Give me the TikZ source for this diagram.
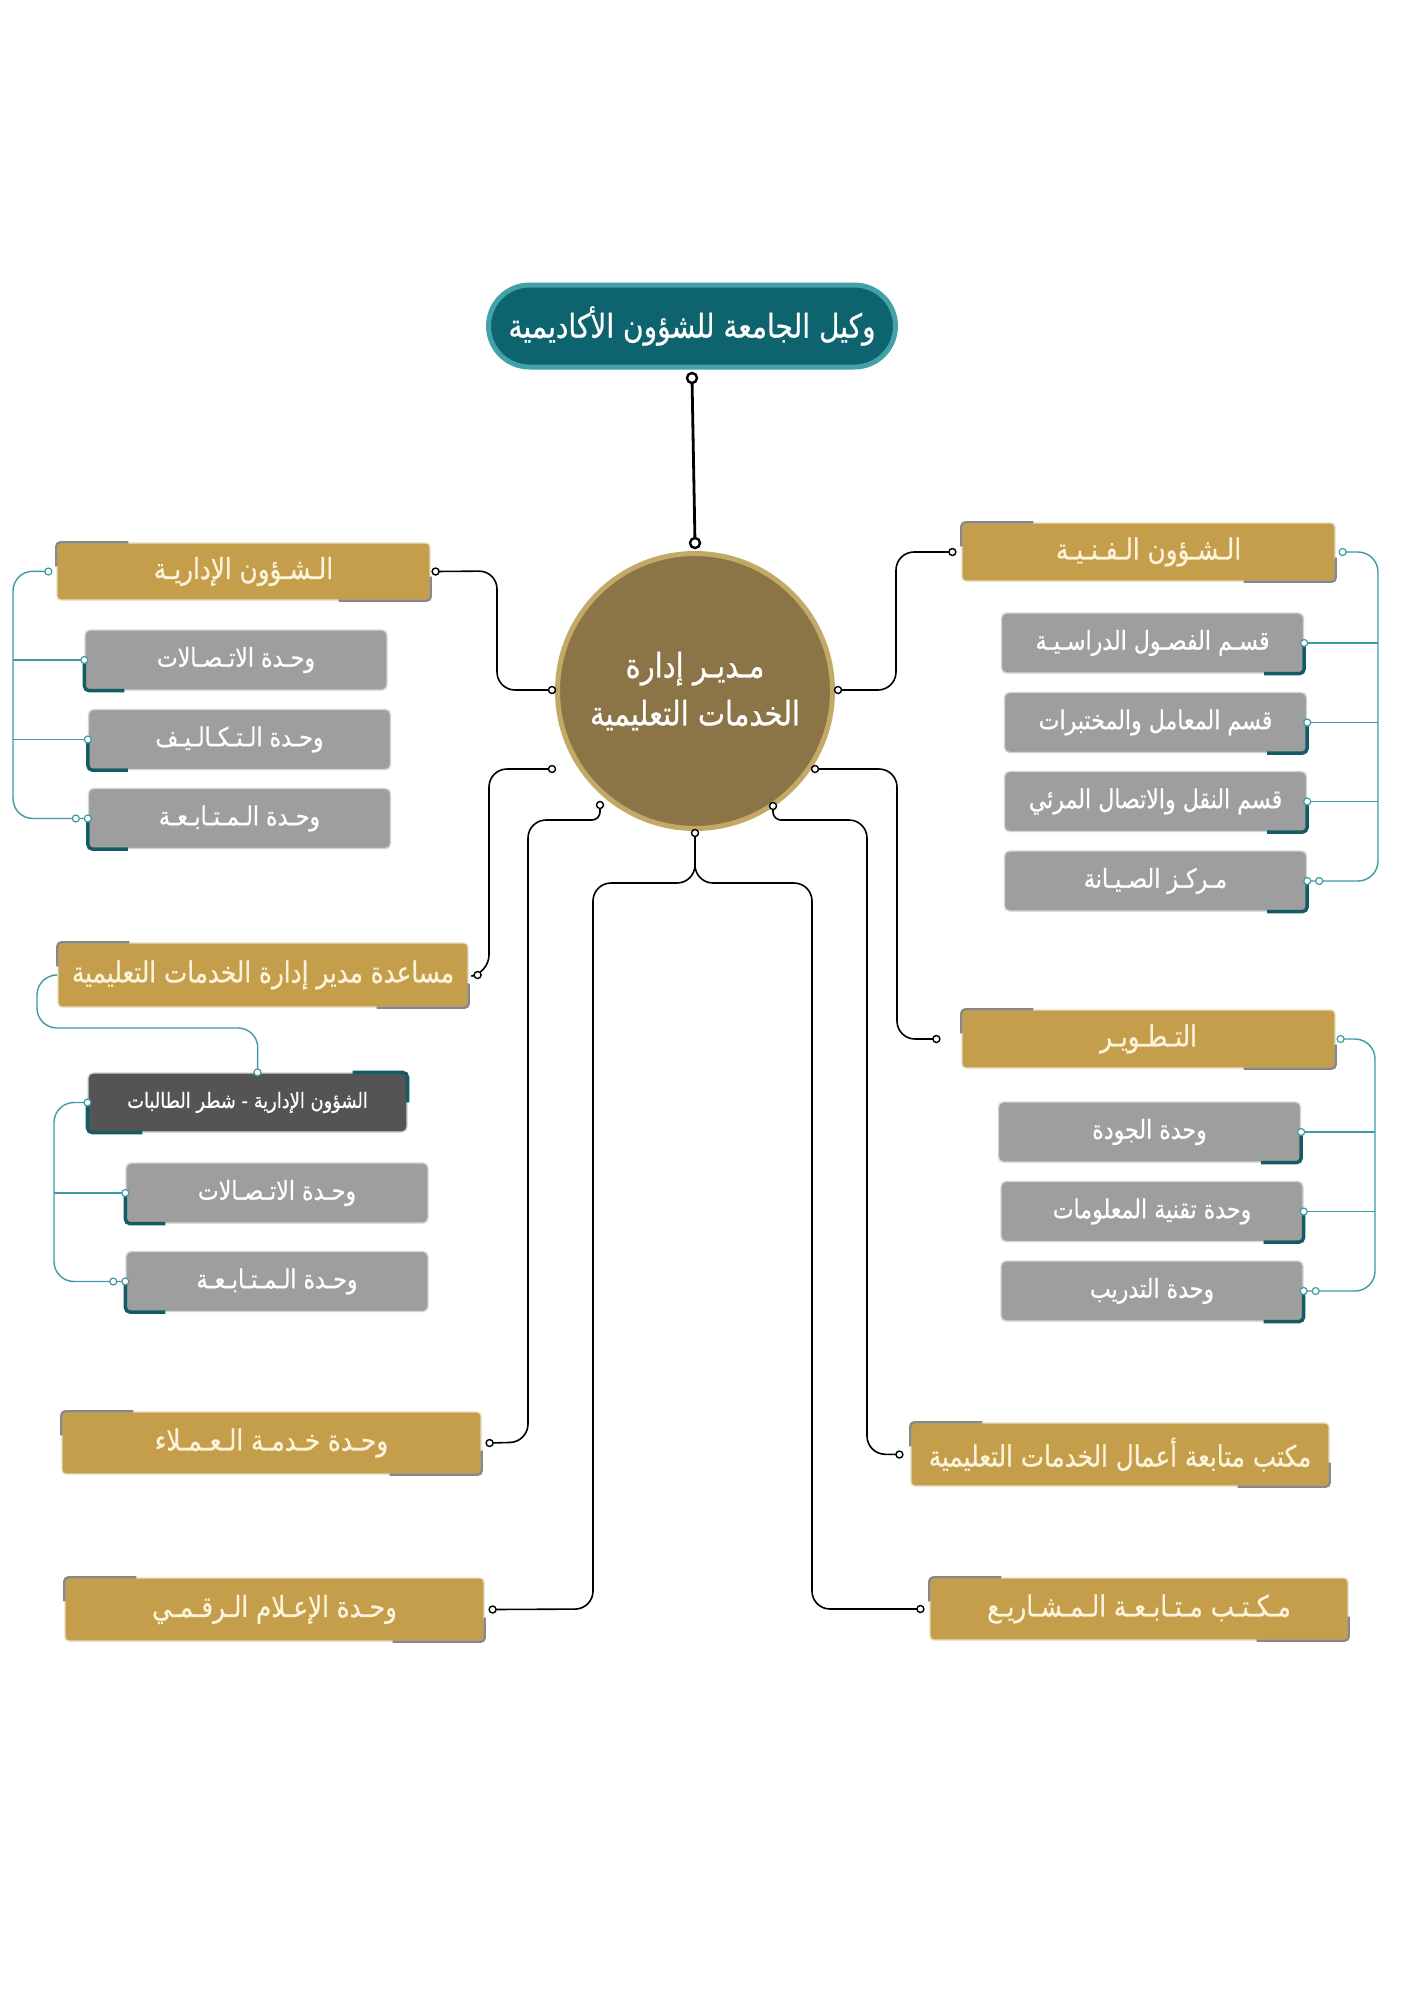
\documentclass[tikz,border=0pt]{standalone}
\usepackage{fontspec}
\newfontfamily\ar[Script=Arabic, FakeStretch=0.85, FakeBold=0.6]{DejaVu Sans}
\TeXXeTstate=1
\newcommand\AR[1]{\beginR #1\endR}
\usetikzlibrary{calc}
\definecolor{gold}{HTML}{C49E4B}
\definecolor{goldline}{HTML}{E6DCC4}
\definecolor{goldtext}{HTML}{FCF3DA}
\definecolor{accgray}{HTML}{8C8880}
\definecolor{boxgray}{HTML}{9E9E9E}
\definecolor{grayline}{HTML}{D2D6D6}
\definecolor{darkbox}{HTML}{545454}
\definecolor{accteal}{HTML}{145C64}
\definecolor{tline}{HTML}{3E9BA3}
\definecolor{circfill}{HTML}{8B7546}
\definecolor{circring}{HTML}{C2A966}
\definecolor{topfill}{HTML}{0D646E}
\definecolor{topring}{HTML}{43A1A8}
\newcommand\GoldAcc[1]{%
  \draw[goldacc] ([yshift=-24pt]#1.north west) |- ([xshift=72pt]#1.north west);
  \draw[goldacc] ([yshift=24pt]#1.south east) |- ([xshift=-92pt]#1.south east);}
\newcommand\AccL[1]{\draw[tealacc] ([yshift=30pt]#1.south west) |- ([xshift=40pt]#1.south west);}
\newcommand\AccR[1]{\draw[tealacc] ([yshift=30pt]#1.south east) |- ([xshift=-40pt]#1.south east);}
\begin{document}
\begin{tikzpicture}[x=1pt,y=-1pt,
  goldbox/.style={rectangle, rounded corners=4pt, fill=gold, draw=goldline, line width=1.2pt,
    text=goldtext, font={\ar\fontsize{29pt}{32pt}\selectfont}, inner sep=1pt},
  graybox/.style={rectangle, rounded corners=5pt, fill=boxgray, draw=grayline, line width=1.4pt,
    text=white, font={\ar\fontsize{26pt}{30pt}\selectfont}, inner sep=1pt,
    minimum width=302pt, minimum height=60pt},
  goldacc/.style={draw=accgray, line width=2.6pt, rounded corners=4pt},
  tealacc/.style={draw=accteal, line width=3.5pt, rounded corners=5pt},
  conn/.style={draw=black, line width=1.6pt, rounded corners=18pt},
  tconn/.style={draw=tline, line width=1.4pt, rounded corners=20pt},
  bdot/.style={circle, draw=black, fill=white, line width=1.4pt, inner sep=0pt, minimum size=7pt},
  tdot/.style={circle, draw=tline, fill=white, line width=1.2pt, inner sep=0pt, minimum size=7pt}]
\useasboundingbox[fill=white] (0,0) rectangle (1414,2000);

% ---- top node and director circle
\node[rectangle, rounded corners=41pt, fill=topfill, draw=topring, line width=5pt,
  minimum width=407pt, minimum height=82pt, text=white, inner sep=1pt,
  font={\ar\fontsize{33pt}{38pt}\selectfont}] (vp) at (692,326) {\AR{وكيل الجامعة للشؤون الأكاديمية}};
\node[circle, fill=circfill, draw=circring, line width=5pt, minimum size=275pt, align=center,
  text=white, font={\ar\fontsize{34pt}{48pt}\selectfont}] (dir) at (695,691)
  {\AR{مـديـر إدارة}\\\AR{الخدمات التعليمية}};

% ---- gold boxes
\node[goldbox, minimum width=373pt, minimum height=57pt] (idari) at (243.5,571.5) {\AR{الـشـؤون الإداريـة}};
\node[goldbox, minimum width=410pt, minimum height=64pt] (musa) at (263,975) {\AR{مساعدة مدير إدارة الخدمات التعليمية}};
\node[goldbox, minimum width=419pt, minimum height=62pt] (khidma) at (271.5,1443) {\AR{وحـدة خـدمـة الـعـمـلاء}};
\node[goldbox, minimum width=419pt, minimum height=63pt] (ilam) at (274.5,1609.5) {\AR{وحـدة الإعـلام الـرقـمـي}};
\node[goldbox, minimum width=373pt, minimum height=58pt] (fanni) at (1148.5,552) {\AR{الـشـؤون الـفـنـيـة}};
\node[goldbox, minimum width=373pt, minimum height=58pt] (tatwir) at (1148.5,1039) {\AR{التـطـويـر}};
\node[goldbox, minimum width=418pt, minimum height=63pt] (mone) at (1120,1454.5) {\AR{مكتب متابعة أعمال الخدمات التعليمية}};
\node[goldbox, minimum width=418pt, minimum height=62pt] (mtwo) at (1139,1609) {\AR{مـكـتـب مـتـابـعـة الـمـشـاريـع}};
\foreach \n in {idari,musa,khidma,ilam,fanni,tatwir,mone,mtwo} {\GoldAcc{\n}}

% ---- gray boxes, left
\node[graybox] (la) at (236,660) {\AR{وحـدة الاتـصـالات}};
\node[graybox] (lb) at (239.5,739.5) {\AR{وحـدة الـتـكـالـيـف}};
\node[graybox] (lc) at (239.5,818.5) {\AR{وحـدة الـمـتـابـعـة}};
\node[rectangle, rounded corners=5pt, fill=darkbox, draw=grayline, line width=1.2pt, text=white,
  font={\ar\fontsize{21pt}{24pt}\selectfont}, minimum width=319pt, minimum height=59pt] (dark) at (247.5,1102.5)
  {\AR{الشؤون الإدارية - شطر الطالبات}};
\node[graybox] (ld) at (277,1193) {\AR{وحـدة الاتـصـالات}};
\node[graybox] (le) at (277,1281.5) {\AR{وحـدة الـمـتـابـعـة}};
\foreach \n in {la,lb,lc,ld,le} {\AccL{\n}}
\draw[tealacc] ([yshift=-30pt]dark.north east) |- ([xshift=-55pt]dark.north east);
\draw[tealacc] ([yshift=-29pt]dark.north west) |- ([xshift=55pt]dark.south west);

% ---- gray boxes, right
\node[graybox] (ra) at (1152.5,643) {\AR{قسـم الفصـول الدراسـيـة}};
\node[graybox] (rb) at (1155.5,722.5) {\AR{قسم المعامل والمختبرات}};
\node[graybox] (rc) at (1155.5,801.5) {\AR{قسم النقل والاتصال المرئي}};
\node[graybox] (rd) at (1155.5,881) {\AR{مـركـز الصـيـانة}};
\node[graybox] (re) at (1149.5,1132) {\AR{وحدة الجودة}};
\node[graybox] (rf) at (1152,1211.5) {\AR{وحدة تقنية المعلومات}};
\node[graybox] (rg) at (1152,1291) {\AR{وحدة التدريب}};
\foreach \n in {ra,rb,rc,rd,re,rf,rg} {\AccR{\n}}

% ---- named connector ends
\coordinate (vpB) at (692,378);
\coordinate (dirT) at (695,543);
\coordinate (dR) at (838,690);
\coordinate (dL) at (552,690);
\coordinate (dLL) at (552,769);
\coordinate (dRR) at (815,769);
\coordinate (dBL) at (600,805);
\coordinate (dBR) at (773,806);
\coordinate (dB) at (695,833);
\coordinate (fanniL) at ([xshift=-9pt]fanni.west);
\coordinate (idariR) at ([xshift=5pt]idari.east);
\coordinate (musaR) at ([xshift=9pt]musa.east);
\coordinate (tatwirL) at ([xshift=-25pt]tatwir.west);
\coordinate (khidmaR) at ([xshift=8pt]khidma.east);
\coordinate (ilamR) at ([xshift=8pt]ilam.east);
\coordinate (moneL) at ([xshift=-11pt]mone.west);
\coordinate (mtwoL) at ([xshift=-9pt]mtwo.west);

% ---- black connectors
\draw[line width=2.8pt] (vpB) -- (dirT);
\node[circle, draw=black, fill=white, line width=2.4pt, inner sep=0pt, minimum size=10pt] at (vpB) {};
\node[circle, draw=black, fill=white, line width=2.4pt, inner sep=0pt, minimum size=10pt] at (dirT) {};
\draw[conn] (dR) -- (896,690) -- (896,552) -- (fanniL);
\draw[conn] (dL) -- (497,690) -- (497,571) -- (idariR);
\draw[conn] (dLL) -- (489,769) -- (489,973) -- (musaR);
\draw[conn] (dRR) -- (897,769) -- (897,1039) -- (tatwirL);
\draw[conn] (dBL) [rounded corners=8pt] -- (600,820) [rounded corners=18pt] -- (528,820) -- (528,1442) -- (khidmaR);
\draw[conn] (dBR) [rounded corners=8pt] -- (773,820) [rounded corners=18pt] -- (867,820) -- (867,1454) -- (moneL);
\draw[conn] (dB) -- (695,883) -- (593,883) -- (593,1609) -- (ilamR);
\draw[conn] (dB) -- (695,883) -- (812,883) -- (812,1609) -- (mtwoL);
\foreach \c in {dR,dL,dLL,dRR,dBL,dBR,dB,fanniL,idariR,musaR,tatwirL,khidmaR,ilamR,moneL,mtwoL}
  {\node[bdot] at (\c) {};}

% ---- teal connectors
\coordinate (idariL) at ([xshift=-8pt]idari.west);
\coordinate (lcEnd) at ([xshift=-12pt]lc.west);
\draw[tconn] (idariL) -- (13,571) -- (13,818.5) -- (lc.west);
\draw[tline, line width=1.4pt] (13,660) -- (la.west);
\draw[tline, line width=1.4pt] (13,739.5) -- (lb.west);
\foreach \c in {idariL,lcEnd,la.west,lb.west,lc.west} {\node[tdot] at (\c) {};}

\coordinate (fanniR) at ([xshift=7pt]fanni.east);
\coordinate (rdEnd) at ([xshift=12pt]rd.east);
\draw[tconn] (fanniR) -- (1378,552) -- (1378,881) -- (rd.east);
\draw[tline, line width=1.4pt] (1378,643) -- (ra.east);
\draw[tline, line width=1.4pt] (1378,722.5) -- (rb.east);
\draw[tline, line width=1.4pt] (1378,801.5) -- (rc.east);
\foreach \c in {fanniR,rdEnd,ra.east,rb.east,rc.east,rd.east} {\node[tdot] at (\c) {};}

\coordinate (tatwirR) at ([xshift=5pt]tatwir.east);
\coordinate (rgEnd) at ([xshift=12pt]rg.east);
\draw[tconn] (tatwirR) -- (1375,1039) -- (1375,1291) -- (rg.east);
\draw[tline, line width=1.4pt] (1375,1132) -- (re.east);
\draw[tline, line width=1.4pt] (1375,1211.5) -- (rf.east);
\foreach \c in {tatwirR,rgEnd,re.east,rf.east,rg.east} {\node[tdot] at (\c) {};}

\coordinate (musaL) at ([xshift=-5pt]musa.west);
\coordinate (darkT) at ([xshift=10pt]dark.north);
\draw[tconn] (musaL) -- (37,975) -- (37,1028) -- (258,1028) -- (darkT);
\coordinate (leEnd) at ([xshift=-12pt]le.west);
\draw[tconn] (dark.west) -- (54,1102.5) -- (54,1281.5) -- (le.west);
\draw[tline, line width=1.4pt] (54,1193) -- (ld.west);
\foreach \c in {darkT,dark.west,leEnd,ld.west,le.west} {\node[tdot] at (\c) {};}
\end{tikzpicture}
\end{document}
